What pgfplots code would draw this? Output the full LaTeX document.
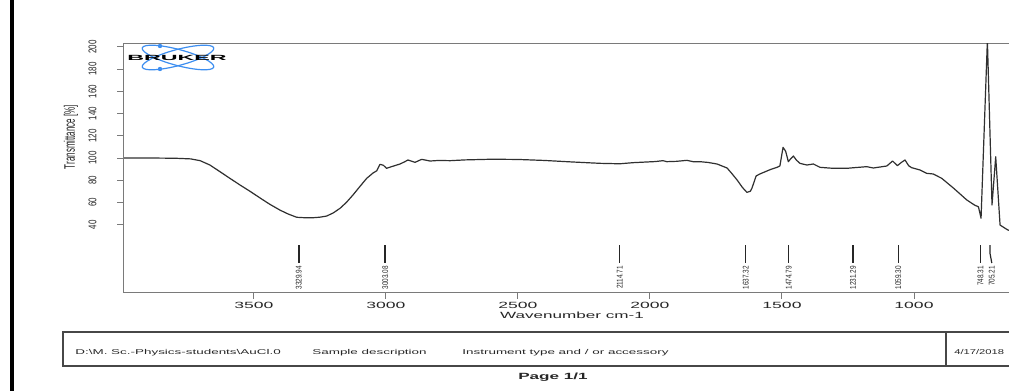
\documentclass[border=0pt]{standalone}
\usepackage{fontspec}
\setmainfont{Liberation Sans}
\usepackage{pgfplots}
\pgfplotsset{compat=1.18}
\definecolor{bruk}{HTML}{3D8EF0}
\definecolor{axg}{HTML}{7A7A7A}
\definecolor{ink}{HTML}{262626}
\definecolor{spec}{HTML}{303030}

\begin{document}
\begin{tikzpicture}[x=1pt,y=1pt]
\useasboundingbox (0,0) rectangle (1009,391);
\fill[white] (0,0) rectangle (1009,391);
\begin{scope}
\clip (0,0) rectangle (1009,391);
\begin{axis}[
  at={(124pt,99pt)}, anchor=south west, scale only axis,
  width=896pt, height=248pt,
  x dir=reverse, xmin=598.5, xmax=3992.4, ymin=-20.7, ymax=202.7,
  xtick={1000,1500,2000,2500,3000,3500},
  ytick={40,60,80,100,120,140,160,180,200},
  tick pos=left, tick align=outside,
  major tick length=6.5pt,
  axis line style={axg, line width=1pt},
  tick style={axg, line width=1pt},
  /pgf/number format/assume math mode=true,
  /pgf/number format/1000 sep={},
  xticklabel style={font=\fontsize{9}{10}\selectfont, text=ink, xscale=1.95},
  yticklabel style={font=\fontsize{8}{9}\selectfont, text=ink, xscale=1.4, rotate=90, anchor=south},
  yticklabel shift=16pt,
  xlabel={Wavenumber cm-1},
  xlabel style={font=\fontsize{9}{10}\selectfont, text=ink, xscale=1.9, yshift=3pt},
  ylabel={Transmittance [\%]},
  every axis y label/.style={at={(axis description cs:-0.0592,0.625)}, anchor=center, font=\fontsize{8}{9}\selectfont, text=ink, xscale=1.9, rotate=90},
  clip=true,
]
\addplot[spec, line width=1.2pt, line join=round] coordinates {
(3992,100) (3900,100) (3800,99.8) (3740,99.2) (3704,97.6) (3667,93.7) (3629,87.7)
(3590,81.5) (3553,75.7) (3515,70) (3477,64) (3440,58.3) (3401,53) (3370,49.5)
(3338,46.6) (3300,46.1) (3276,46.2) (3250,46.7) (3225,47.7) (3200,50.5) (3174,54.7)
(3150,60) (3125,66.7) (3100,74) (3073,81.7) (3049,86.5) (3035,88.5) (3023,94.3)
(3010,93.5) (2998,90.7) (2975,92.5) (2947,94.6) (2930,96.5) (2917,98.2) (2890,96.1)
(2865,98.8) (2833,97.3) (2800,97.8) (2757,97.6) (2700,98.3) (2600,98.9) (2500,98.7)
(2400,97.8) (2300,96.5) (2189,95.2) (2114,94.8) (2064,95.8) (1980,96.8) (1951,97.6)
(1936,96.7) (1900,97) (1860,97.9) (1837,96.7) (1811,96.7) (1780,96) (1746,94.6)
(1708,91) (1690,86) (1670,80.2) (1650,73.5) (1633,69.1) (1620,70) (1614,72.7)
(1598,83.8) (1585,85.5) (1572,86.8) (1545,89.5) (1519,91.6) (1508,92.8) (1496,109.6)
(1486,106) (1476,96.7) (1468,99) (1457,101.8) (1445,98) (1432,95.2) (1406,93.7)
(1381,94.6) (1356,91.6) (1306,90.7) (1250,90.8) (1231,91.2) (1179,92.2) (1154,91)
(1103,92.8) (1081,97.3) (1063,93.1) (1048,96) (1034,98.2) (1020,93) (1009,91.3)
(977,89.2) (952,86.2) (927,85.6) (895,81.7) (851,73) (800,62.2) (770,57.5)
(756,56.1) (750,50) (746,45.7) (722,206) (704.5,57.7) (690.5,101.2) (674,39.6)
(655,36.7) (644,35.1) (600,33)
};
% peak annotations
\draw[ink, line width=1.5pt] (axis cs:3329.94,21.6) -- (axis cs:3329.94,5.4);
\draw[ink, line width=1.5pt] (axis cs:3003.08,21.6) -- (axis cs:3003.08,5.4);
\draw[ink, line width=1.5pt] (axis cs:2114.71,21.6) -- (axis cs:2114.71,5.4);
\draw[ink, line width=1.5pt] (axis cs:1637.32,21.6) -- (axis cs:1637.32,5.4);
\draw[ink, line width=1.5pt] (axis cs:1474.79,21.6) -- (axis cs:1474.79,5.4);
\draw[ink, line width=1.5pt] (axis cs:1231.29,21.6) -- (axis cs:1231.29,5.4);
\draw[ink, line width=1.5pt] (axis cs:1059.30,21.6) -- (axis cs:1059.30,5.4);
\draw[ink, line width=1.5pt] (axis cs:748.31,21.6) -- (axis cs:748.31,5.4);
\draw[ink, line width=1.2pt] (axis cs:712,21.6) -- (axis cs:712,14) -- (axis cs:705.21,5.4);
\begin{scope}[every node/.style={font=\fontsize{6.4}{7}\selectfont, text=ink, xscale=1.3, rotate=90, anchor=east, inner sep=0pt}]
\node at (axis cs:3329.94,2.7) {3329.94};
\node at (axis cs:3003.08,2.7) {3003.08};
\node at (axis cs:2114.71,2.7) {2114.71};
\node at (axis cs:1637.32,2.7) {1637.32};
\node at (axis cs:1474.79,2.7) {1474.79};
\node at (axis cs:1231.29,2.7) {1231.29};
\node at (axis cs:1059.30,2.7) {1059.30};
\node at (axis cs:748.31,2.7) {748.31};
\node at (axis cs:705.21,2.7) {705.21};
\end{scope}
\end{axis}
\end{scope}
% Bruker logo
\draw[bruk, line width=1.2pt, rotate around={15:(178,333.5)}] (178,333.5) ellipse (37 and 8);
\draw[bruk, line width=1.2pt, rotate around={-15:(178,333.5)}] (178,333.5) ellipse (37 and 8);
\fill[bruk] (160,345) circle (2.2);
\fill[bruk] (160,322) circle (2.2);
\node[font=\fontsize{7.5}{8}\selectfont\bfseries, xscale=3.1, inner sep=0pt] at (177,333) {BRUKER};
% left bar
\fill[black] (10,0) rectangle (14,391);
% footer
\draw[ink!85, line width=1.3pt] (63,25) rectangle (1040,59);
\draw[ink!85, line width=1.3pt] (946,25) -- (946,59);
\begin{scope}[every node/.style={font=\fontsize{7}{8}\selectfont, text=ink, xscale=1.92, anchor=base west, inner sep=0pt}]
\node at (75,37) {D:\textbackslash M. Sc.-Physics-students\textbackslash AuCl.0};
\node at (312,37) {Sample description};
\node at (462,37) {Instrument type and / or accessory};
\end{scope}
\node[font=\fontsize{7}{8}\selectfont, text=ink, xscale=1.6, anchor=base west, inner sep=0pt] at (954,37) {4/17/2018};
\node[font=\fontsize{9}{10}\selectfont\bfseries, text=ink, xscale=1.9] at (553,14) {Page 1/1};
\end{tikzpicture}
\end{document}
